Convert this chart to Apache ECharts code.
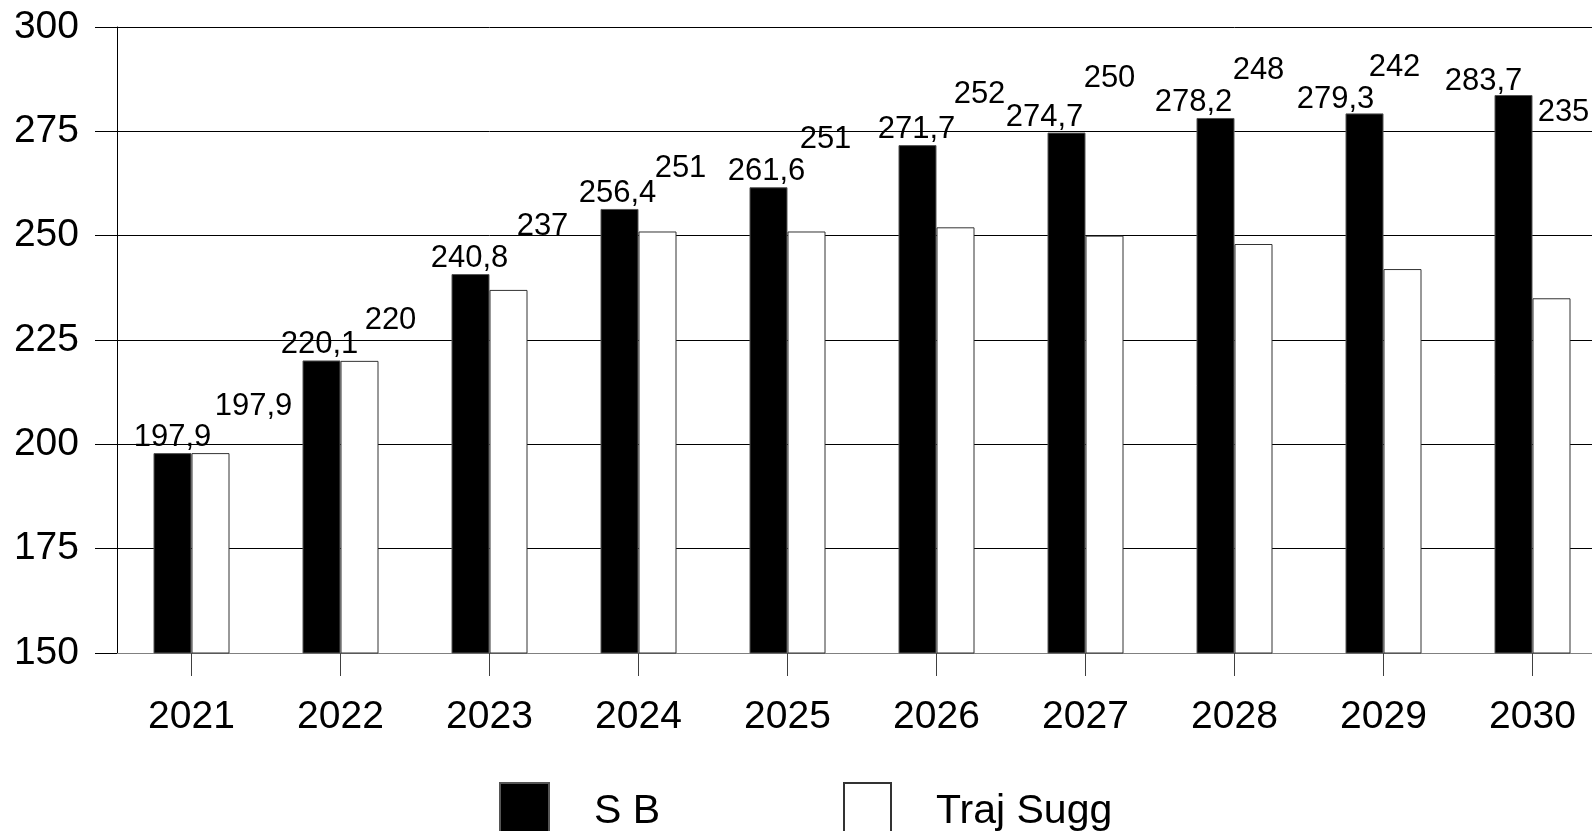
<!DOCTYPE html>
<html>
<head>
<meta charset="utf-8">
<script src="https://cdn.jsdelivr.net/npm/echarts@6/dist/echarts.min.js"></script>
<style>
html,body{margin:0;padding:0;background:#fff;overflow:hidden;}
#chart{width:1610px;height:831px;}
</style>
</head>
<body>
<div id="chart"></div>
<script>
const categories = ['2021','2022','2023','2024','2025','2026','2027','2028','2029','2030'];
const sbValues = [197.9, 220.1, 240.8, 256.4, 261.6, 271.7, 274.7, 278.2, 279.3, 283.7];
const trajValues = [197.9, 220, 237, 251, 251, 252, 250, 248, 242, 235];
const yMin = 150, yMax = 300, yStep = 25;
const seriesNames = ['S B', 'Traj Sugg'];

// label placement (style, px)
const sbLabelShift = [[0,0],[-2,0],[-1,0],[-2,0],[-2,0],[-1,0],[-22,0],[-22,0],[-29,2],[-30,2]];
const trajLabelShift = [[43,-47],[31,-40],[34,-63],[23,-63],[19,-92],[24,-133],[5,-157],[5,-174],[-8,-202],[12,-186]];

const FONT = 'Liberation Sans, Arial, sans-serif';
const LABEL_SIZE = 31;
const fmt = p => String(p.value).replace('.', ',');

const legendText = {
  fontSize: 41, fontFamily: FONT, color: '#000', padding: [0, 0, 0, 40],
  rich: {t: {fontSize: 41, fontFamily: FONT, color: '#000', padding: [8, 0, 0, 0]}}
};

const chart = echarts.init(document.getElementById('chart'), null, {renderer: 'canvas'});
chart.setOption({
  backgroundColor: '#fff',
  animation: false,
  textStyle: {fontFamily: FONT, color: '#000'},
  grid: {left: 117, width: 1490, top: 27, bottom: 178, containLabel: false, outerBoundsMode: 'none'},
  legend: [
    {
      data: [seriesNames[0]], left: 499, top: 782, padding: 0, itemWidth: 49, itemHeight: 49, icon: 'rect',
      formatter: n => '{t|' + n + '}', textStyle: legendText, selectedMode: false
    },
    {
      data: [seriesNames[1]], left: 843, top: 782, padding: 0, itemWidth: 47, itemHeight: 49, icon: 'rect',
      formatter: n => '{t|' + n + '}', textStyle: legendText, selectedMode: false
    }
  ],
  xAxis: {
    type: 'category',
    data: categories,
    axisLine: {show: true, lineStyle: {color: '#808080', width: 1}},
    axisTick: {show: true, alignWithLabel: true, length: 23, lineStyle: {color: '#404040'}},
    axisLabel: {fontSize: 39, fontFamily: FONT, color: '#000', margin: 45},
    splitLine: {show: false}
  },
  yAxis: {
    type: 'value',
    min: yMin, max: yMax, interval: yStep,
    axisLine: {show: true, lineStyle: {color: '#000', width: 1}},
    axisTick: {show: true, length: 22, lineStyle: {color: '#000'}},
    axisLabel: {fontSize: 39, fontFamily: FONT, color: '#000', margin: 38},
    splitLine: {show: true, lineStyle: {color: '#000', width: 1}}
  },
  series: [
    {
      name: seriesNames[0], type: 'bar',
      data: sbValues.map((v, i) => ({
        value: v,
        label: {offset: [sbLabelShift[i][0], sbLabelShift[i][1]]}
      })),
      barWidth: 38, barGap: '0%',
      itemStyle: {color: '#000', borderColor: '#555', borderWidth: 1},
      label: {show: true, position: 'top', distance: 0, formatter: fmt,
              fontSize: LABEL_SIZE, fontFamily: FONT, color: '#000'}
    },
    {
      name: seriesNames[1], type: 'bar',
      data: trajValues.map((v, i) => ({
        value: v,
        label: {offset: [trajLabelShift[i][0], trajLabelShift[i][1] + LABEL_SIZE / 2]}
      })),
      barWidth: 38, barGap: '0%',
      itemStyle: {color: '#fff', borderColor: '#333', borderWidth: 1},
      label: {show: true, position: 'top', distance: 0, formatter: fmt,
              fontSize: LABEL_SIZE, fontFamily: FONT, color: '#000'}
    }
  ]
});
</script>
</body>
</html>
